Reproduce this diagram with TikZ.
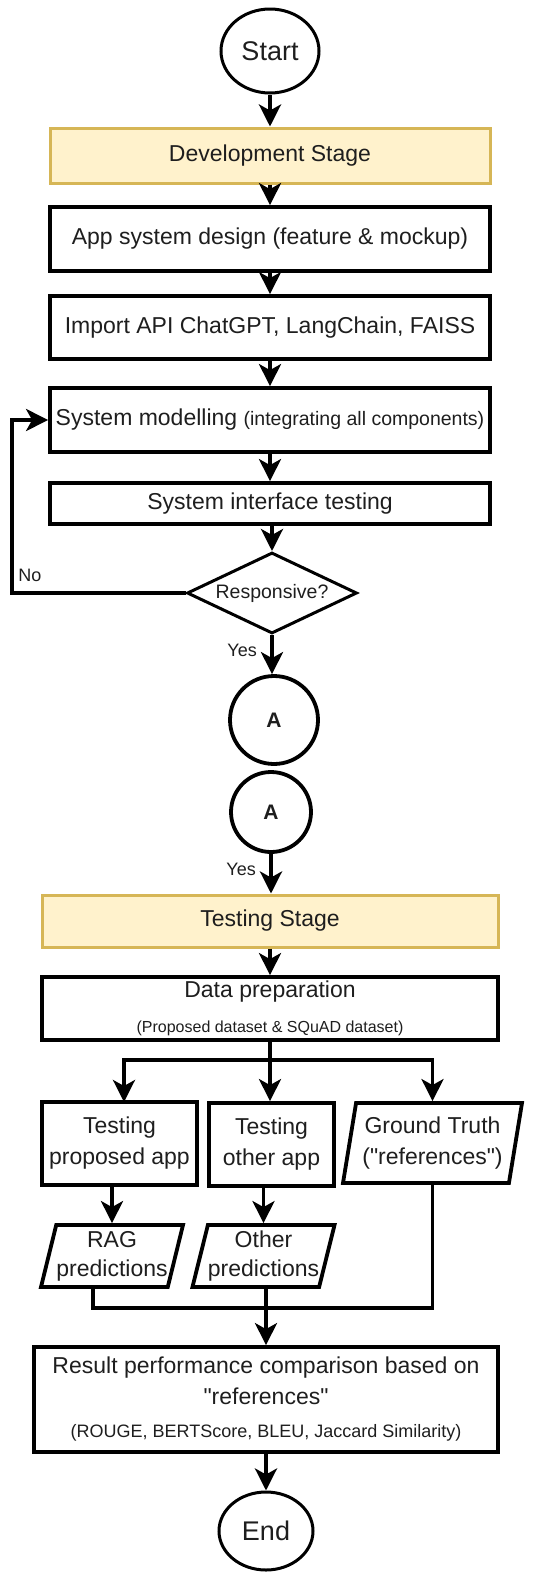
\documentclass[tikz,border=0pt]{standalone}
\usepackage{fontspec}
\setmainfont{Liberation Sans}[Ligatures=TeXOff]
\usepackage{xcolor}
\usetikzlibrary{arrows.meta,shapes.geometric,positioning,calc}
\definecolor{stagefill}{HTML}{FFF2CC}
\definecolor{stageline}{HTML}{D6B656}
\definecolor{inktext}{HTML}{1E1E1E}
\newcommand{\fsz}[1]{\fontsize{#1}{#1}\selectfont}

\begin{document}
\begin{tikzpicture}[x=1pt,y=-1pt,
		every node/.style={text=inktext, font=\fsz{23}},
		procbox/.style={draw, line width=3.8pt, inner sep=0pt, align=center, minimum width=440pt},
		stagebox/.style={draw=stageline, fill=stagefill, line width=3pt, inner sep=0pt, minimum width=#1},
		termnode/.style={ellipse, draw, line width=3pt, inner sep=0pt, font=\fsz{27}},
		joinnode/.style={circle, draw, line width=3.8pt, inner sep=0pt, font=\bfseries\fsz{21}},
		datanode/.style={trapezium, draw, line width=3.8pt, inner sep=0pt, align=center, trapezium stretches body},
		flow/.style={line width=3.8pt, -{Stealth[length=22pt,width=22pt,inset=6pt]}},
		link/.style={line width=3.8pt},
		tag/.style={font=\fsz{18}}]
		\useasboundingbox (0,0) rectangle (547,1572);
		
		\node[termnode, minimum width=98pt, minimum height=84pt] (start) at (270,51) {Start};
		\node[stagebox=440pt, minimum height=55pt] (dev) at (270,155.5) {Development Stage};
		\node[procbox, minimum height=64pt] (design) at (270,239) {App system design (feature \& mockup)};
		\node[procbox, minimum height=63pt] (import) at (270,327.5) {Import API ChatGPT, LangChain, FAISS};
		\node[procbox, minimum height=64pt] (sysmod) at (270,420) {System modelling {\fsz{19.5}(integrating all components)}};
		\node[procbox, minimum height=41pt] (iface) at (270,503.5) {System interface testing};
		\node[diamond, aspect=2.1, draw, line width=3pt, inner sep=0pt, minimum width=170pt, minimum height=81pt, font=\fsz{19.5}] (resp) at (272,593) {Responsive?};
		\node[joinnode, minimum size=88pt] (joinA) at (274,720) {A};
		\node[joinnode, minimum size=80pt] (joinB) at (271,812) {A};
		
		\node[stagebox=456pt, minimum height=52pt] (testing) at (270,921) {Testing Stage};
		\node[procbox, minimum width=456pt, minimum height=63pt] (prep) at (270,1008.5)
			{Data preparation\\[12pt]{\fsz{16}(Proposed dataset \& SQuAD dataset)}};
		\node[procbox, minimum width=155pt, minimum height=83pt] (testprop) at (119.5,1143.5) {Testing\\[8pt]proposed app};
		\node[procbox, minimum width=125pt, minimum height=83pt] (testother) at (271.5,1144.5) {Testing\\[8pt]other app};
		\node[datanode, trapezium left angle=76, trapezium right angle=104, minimum width=179pt, minimum height=80pt] (truth) at (432.5,1143)
			{Ground Truth\\[8pt]("references")};
		\node[datanode, trapezium left angle=73, trapezium right angle=107, minimum width=142pt, minimum height=62pt] (rag) at (112,1256)
			{RAG\\[6pt]predictions};
		\node[datanode, trapezium left angle=73, trapezium right angle=107, minimum width=141pt, minimum height=62pt] (other) at (263.5,1256)
			{Other\\[6pt]predictions};
		\node[procbox, minimum width=464pt, minimum height=105pt] (result) at (266,1399.5)
			{Result performance comparison based on\\[8pt]"references"\\[10pt]{\fsz{18}(ROUGE, BERTScore, BLEU, Jaccard Similarity)}};
		\node[termnode, minimum width=94pt, minimum height=78pt] (end) at (266,1531) {End};
		
		\coordinate (loop) at (12,593);
		\coordinate (split) at (270,1060);
		\coordinate (ragfoot) at (93,1308);
		
		\draw[flow] (start) -- (dev);
		\draw[flow] (dev) -- (design);
		\draw[flow] (design) -- (import);
		\draw[flow] (import) -- (sysmod);
		\draw[flow] (sysmod) -- (iface);
		\draw[flow] (iface.south -| resp.north) -- (resp.north);
		\draw[flow] (resp.west) -- (loop) node[pos=0.92, above, tag, yshift=6pt, xshift=4pt]{No} |- (sysmod.west);
		\draw[flow] (resp.south) -- (resp.south |- joinA.north) node[pos=0.4, left, tag, xshift=-10pt]{Yes};
		\draw[flow] (joinB.south) -- (joinB.south |- testing.north) node[pos=0.4, left, tag, xshift=-10pt]{Yes};
		\draw[flow] (testing) -- (prep);
		\draw[link] (prep.south) -- (split);
		\draw[flow] (split) -| (124,1102);
		\draw[flow] (split) -- (split |- testother.north);
		\draw[flow] (split) -| (truth.north);
		\draw[flow] (rag.north |- testprop.south) -- (rag.north);
		\draw[flow] (other.north |- testother.south) -- (other.north);
		\draw[link] (truth.south) |- (ragfoot) -- (ragfoot |- rag.south);
		\draw[flow] (result.north |- other.south) -- (result.north);
		\draw[flow] (result) -- (end);
	\end{tikzpicture}
\end{document}
